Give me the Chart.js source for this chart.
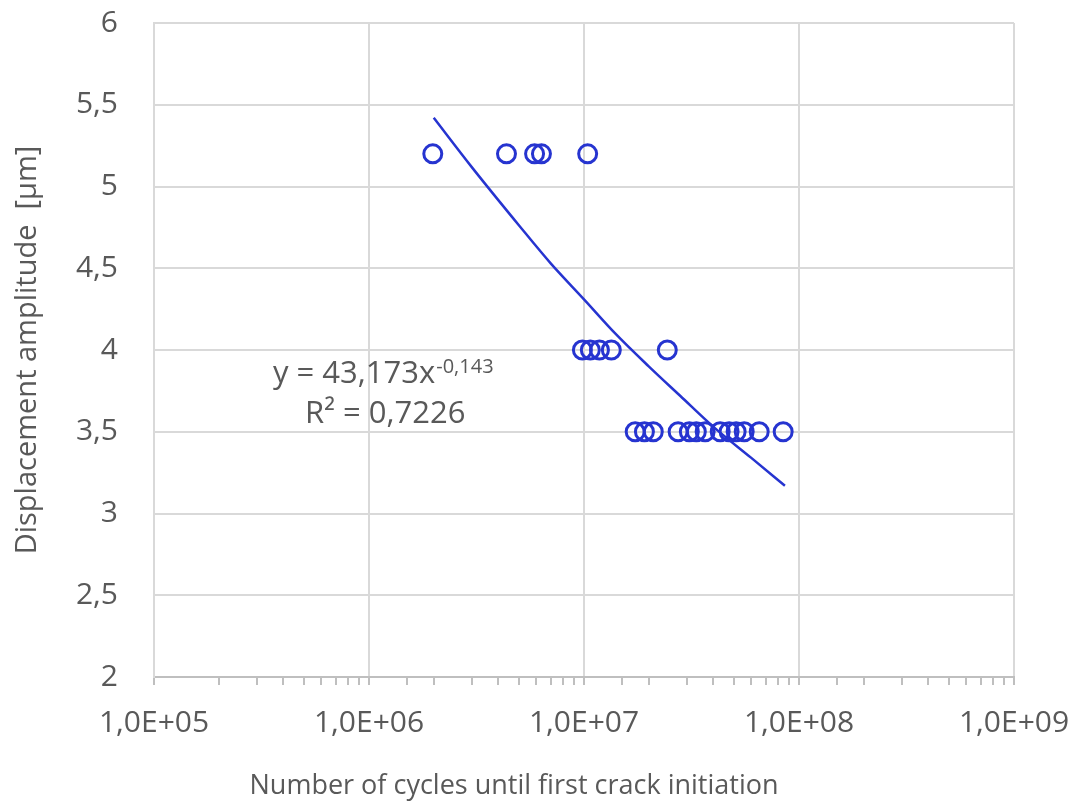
<!DOCTYPE html>
<html>
<head>
<meta charset="utf-8">
<script src="https://cdn.jsdelivr.net/npm/chart.js@4"></script>
<style>
  body { margin: 0; background: #fff; }
  #wrap { width: 1076px; height: 801px; }
</style>
</head>
<body>
<div id="wrap"><canvas id="chart" width="1076" height="801"></canvas></div>
<script>
// measured points (cycles, displacement amplitude in µm)
const cycles = [
  1.98e6, 4.36e6, 5.89e6, 6.34e6, 1.04e7,
  9.83e6, 1.07e7, 1.18e7, 1.34e7, 2.44e7,
  1.73e7, 1.91e7, 2.10e7, 2.74e7, 3.09e7, 3.33e7, 3.66e7,
  4.30e7, 4.73e7, 5.10e7, 5.56e7, 6.53e7, 8.44e7
];
const amplitude = [
  5.2, 5.2, 5.2, 5.2, 5.2,
  4, 4, 4, 4, 4,
  3.5, 3.5, 3.5, 3.5, 3.5, 3.5, 3.5,
  3.5, 3.5, 3.5, 3.5, 3.5, 3.5
];

// power trendline as shown on the chart
const trendCycles = [2e6, 3e6, 5e6, 7e6, 1e7, 1.4e7, 2e7, 2.8e7, 4e7, 6e7, 8.6e7];
const trendAmp = [5.42, 5.12, 4.76, 4.53, 4.31, 4.10, 3.90, 3.72, 3.53, 3.34, 3.17];

const xTicks = [1e5, 1e6, 1e7, 1e8, 1e9];
const xTickLabels = ['1,0E+05', '1,0E+06', '1,0E+07', '1,0E+08', '1,0E+09'];

const blue = 'rgb(38, 52, 208)';
const gridGray = '#d9d9d9';
const textGray = '#595959';
const font = '"Open Sans", sans-serif';

const isDecade = v => xTicks.some(t => Math.abs(t - v) / t < 1e-6);

const labels = {
  id: 'labels',
  afterDraw(chart) {
    const c = chart.ctx;
    c.save();
    c.fillStyle = textGray;
    c.textBaseline = 'alphabetic';
    c.textAlign = 'left';
    c.font = '31px ' + font;
    const main = 'y = 43,173x';
    c.fillText(main, 273, 383);
    const w = c.measureText(main).width;
    c.font = '20px ' + font;
    c.fillText('-0,143', 273 + w + 1, 373);
    c.font = '31px ' + font;
    c.fillText('R² = 0,7226', 305, 423);
    c.font = '27px ' + font;
    c.textAlign = 'center';
    c.fillText('Number of cycles until first crack initiation', 514, 794);
    c.restore();
  }
};

new Chart(document.getElementById('chart'), {
  type: 'scatter',
  data: {
    datasets: [
      {
        type: 'line',
        data: trendCycles.map((x, i) => ({ x, y: trendAmp[i] })),
        borderColor: blue,
        borderWidth: 2.5,
        pointRadius: 0,
        cubicInterpolationMode: 'monotone',
        fill: false
      },
      {
        data: cycles.map((x, i) => ({ x, y: amplitude[i] })),
        pointStyle: 'circle',
        pointRadius: 9,
        pointBorderWidth: 3,
        pointBorderColor: blue,
        pointBackgroundColor: 'rgba(0,0,0,0)'
      }
    ]
  },
  options: {
    responsive: false,
    animation: false,
    layout: { padding: { top: 23, right: 62, bottom: 0, left: 0 } },
    plugins: { legend: { display: false }, tooltip: { enabled: false } },
    scales: {
      x: {
        type: 'logarithmic',
        min: 1e5,
        max: 1e9,
        afterFit: s => { s.height = 124; s.paddingLeft = 0; s.paddingRight = 0; },
        grid: {
          color: ctx => isDecade(ctx.tick.value) ? gridGray : 'rgba(0,0,0,0)',
          lineWidth: 2,
          tickColor: '#bfbfbf',
          tickLength: 8
        },
        border: { color: '#bfbfbf', width: 2 },
        ticks: {
          autoSkip: false,
          maxRotation: 0,
          padding: 20,
          color: textGray,
          font: { family: font, size: 30 },
          callback: v => {
            const i = xTicks.findIndex(t => Math.abs(t - v) / t < 1e-6);
            return i >= 0 ? xTickLabels[i] : '';
          }
        }
      },
      y: {
        min: 2,
        max: 6,
        afterFit: s => { s.width = 154; s.paddingTop = 0; s.paddingBottom = 0; },
        grid: { color: gridGray, lineWidth: 2, drawTicks: false },
        border: { color: gridGray, width: 2 },
        ticks: {
          stepSize: 0.5,
          padding: 36,
          color: textGray,
          font: { family: font, size: 30 },
          callback: v => String(v).replace('.', ',')
        },
        title: {
          display: true,
          text: 'Displacement amplitude  [µm]',
          color: textGray,
          font: { family: font, size: 29 },
          padding: { top: 10, bottom: 0 }
        }
      }
    }
  },
  plugins: [labels]
});
</script>
</body>
</html>
